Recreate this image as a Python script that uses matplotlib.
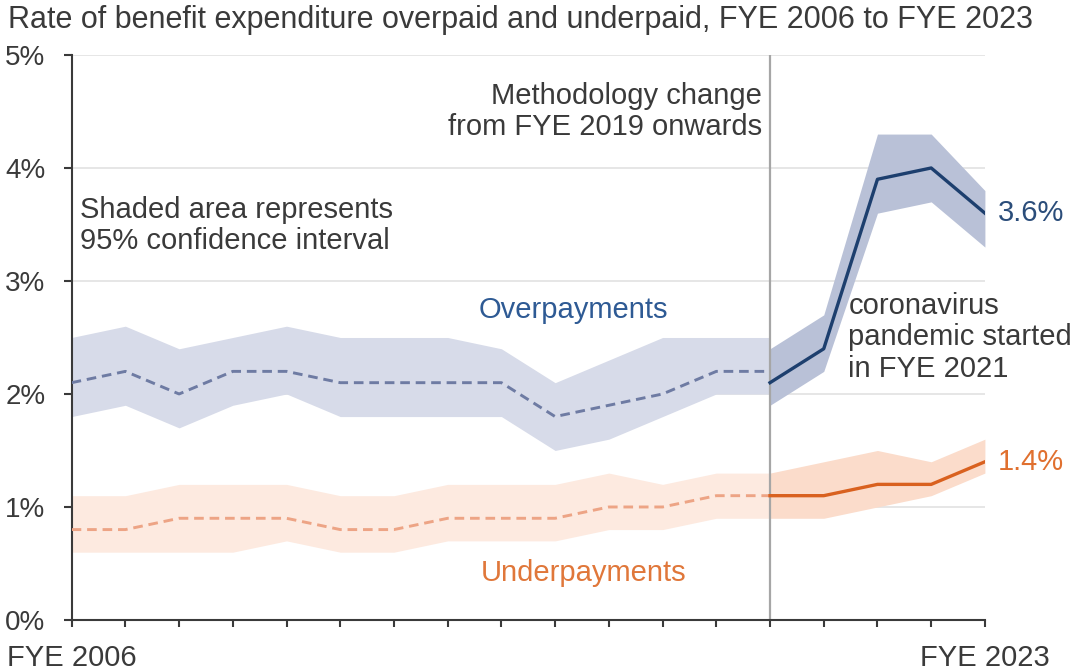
import matplotlib
matplotlib.use("Agg")
import matplotlib.pyplot as plt

plt.rcParams["font.family"] = ["Liberation Sans", "DejaVu Sans"]

years = list(range(2006, 2024))
old_years = years[:14]  # FYE 2006 to FYE 2019, old methodology
new_years = years[13:]  # FYE 2019 to FYE 2023, new methodology

over_old = [2.1, 2.2, 2.0, 2.2, 2.2, 2.1, 2.1, 2.1, 2.1, 1.8, 1.9, 2.0, 2.2, 2.2]
over_old_hi = [2.5, 2.6, 2.4, 2.5, 2.6, 2.5, 2.5, 2.5, 2.4, 2.1, 2.3, 2.5, 2.5, 2.5]
over_old_lo = [1.8, 1.9, 1.7, 1.9, 2.0, 1.8, 1.8, 1.8, 1.8, 1.5, 1.6, 1.8, 2.0, 2.0]
over_new = [2.1, 2.4, 3.9, 4.0, 3.6]
over_new_hi = [2.4, 2.7, 4.3, 4.3, 3.8]
over_new_lo = [1.9, 2.2, 3.6, 3.7, 3.3]

under_old = [0.8, 0.8, 0.9, 0.9, 0.9, 0.8, 0.8, 0.9, 0.9, 0.9, 1.0, 1.0, 1.1, 1.1]
under_old_hi = [1.1, 1.1, 1.2, 1.2, 1.2, 1.1, 1.1, 1.2, 1.2, 1.2, 1.3, 1.2, 1.3, 1.3]
under_old_lo = [0.6, 0.6, 0.6, 0.6, 0.7, 0.6, 0.6, 0.7, 0.7, 0.7, 0.8, 0.8, 0.9, 0.9]
under_new = [1.1, 1.1, 1.2, 1.2, 1.4]
under_new_hi = [1.3, 1.4, 1.5, 1.4, 1.6]
under_new_lo = [0.9, 0.9, 1.0, 1.1, 1.3]

y_ticks = [0, 1, 2, 3, 4, 5]
y_labels = ["0%", "1%", "2%", "3%", "4%", "5%"]

TEXT = "#3a3a3a"
OVER_TEXT = "#2e5a94"
UNDER_TEXT = "#e0773a"

fig = plt.figure(figsize=(10.79, 6.72), dpi=100)
ax = fig.add_axes([0.0664, 0.0774, 0.8464, 0.8408])

# confidence bands
ax.fill_between(old_years, over_old_lo, over_old_hi, color="#d7dbe9", lw=0, zorder=1)
ax.fill_between(new_years, over_new_lo, over_new_hi, color="#b9c1d7", lw=0, zorder=1.5)
ax.fill_between(old_years, under_old_lo, under_old_hi, color="#fdeae0", lw=0, zorder=1)
ax.fill_between(new_years, under_new_lo, under_new_hi, color="#fbdccb", lw=0, zorder=1.5)

# estimates
ax.plot(old_years, over_old, color="#6e7ba3", lw=2.1, dashes=(3.3, 2.0), zorder=3)
ax.plot(new_years, over_new, color="#1d3f6e", lw=2.4, zorder=3)
ax.plot(old_years, under_old, color="#eda485", lw=2.1, dashes=(3.3, 2.0), zorder=3)
ax.plot(new_years, under_new, color="#d9611f", lw=2.4, zorder=3)

# methodology change marker
ax.axvline(2019, color="#a6a6a6", lw=1.6, zorder=2)

ax.set_xlim(years[0], years[-1])
ax.set_ylim(0, 5)
ax.set_yticks(y_ticks)
ax.set_yticklabels(y_labels)
ax.set_xticks(years)
ax.set_xticklabels(["FYE 2006"] + [""] * 16 + ["FYE 2023"])
ax.grid(axis="y", color="#e2e2e2", lw=1.2, zorder=0)
ax.set_axisbelow(True)
for side in ["top", "right"]:
    ax.spines[side].set_visible(False)
for side in ["left", "bottom"]:
    ax.spines[side].set_color("#3a3a3a")
    ax.spines[side].set_linewidth(1.5)
ax.tick_params(axis="y", length=6, width=1.5, color="#3a3a3a", pad=13,
               labelsize=20, labelcolor=TEXT)
ax.tick_params(axis="x", length=5, width=1.5, color="#3a3a3a", pad=12,
               labelsize=21, labelcolor=TEXT)

fig.text(0.007, 0.993, "Rate of benefit expenditure overpaid and underpaid, FYE 2006 to FYE 2023",
         ha="left", va="top", fontsize=22, color=TEXT)

ax.text(2018.85, 4.5, "Methodology change\nfrom FYE 2019 onwards", ha="right", va="center",
        multialignment="right", fontsize=21, color=TEXT, linespacing=1.17)
ax.text(2006.15, 3.49, "Shaded area represents\n95% confidence interval", ha="left", va="center",
        fontsize=21, color=TEXT, linespacing=1.17)
ax.text(2015.34, 2.74, "Overpayments", ha="center", va="center", fontsize=21, color=OVER_TEXT)
ax.text(2015.52, 0.42, "Underpayments", ha="center", va="center", fontsize=21, color=UNDER_TEXT)
ax.text(2020.46, 2.5, "coronavirus\npandemic started\nin FYE 2021", ha="left", va="center",
        fontsize=21, color=TEXT, linespacing=1.15)
ax.annotate(f"{over_new[-1]:.1f}%", (years[-1], over_new[-1]), xytext=(9, 0),
            textcoords="offset points", ha="left", va="center", fontsize=21,
            color="#2b4d7a", annotation_clip=False)
ax.annotate(f"{under_new[-1]:.1f}%", (years[-1], under_new[-1]), xytext=(9, 0),
            textcoords="offset points", ha="left", va="center", fontsize=21,
            color="#e0702f", annotation_clip=False)

fig.savefig("out.png", dpi=100)
